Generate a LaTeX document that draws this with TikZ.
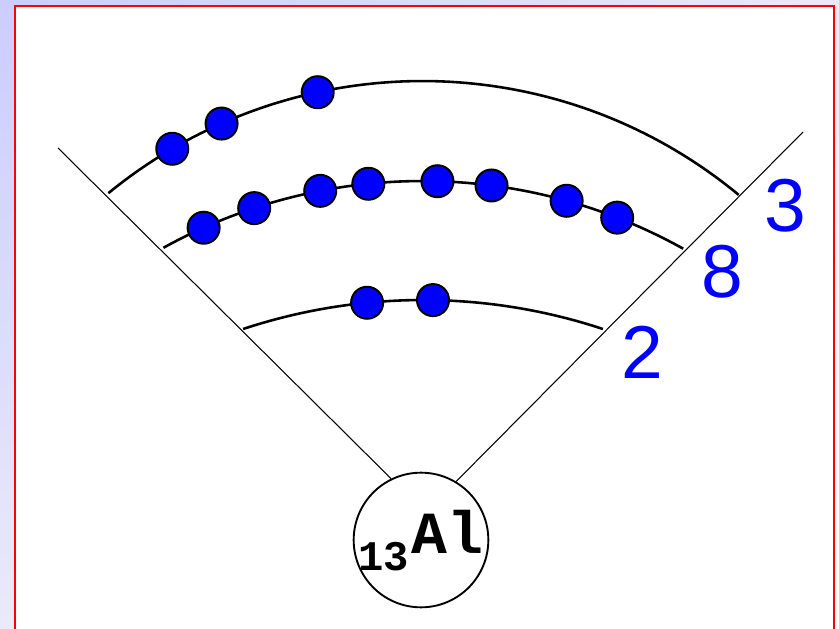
\documentclass[tikz,border=0pt]{standalone}
\usepackage{fontspec}
\setmainfont{Liberation Sans}
\newfontfamily\monofont{Liberation Mono}
\usetikzlibrary{calc,shadings}
\definecolor{elblue}{RGB}{0,0,255}
\definecolor{lavdark}{RGB}{204,204,255}
\definecolor{lavlight}{RGB}{234,234,250}
\definecolor{framered}{RGB}{255,0,0}
\tikzset{
  shell/.style={line width=2.2pt, black},
  sector/.style={line width=0.9pt, black},
  electron/.style={circle, draw=black, fill=elblue, line width=1.7pt,
                   minimum size=0.96cm, inner sep=0pt},
  nucleus/.style={circle, draw=black, line width=1.6pt, minimum size=4.04cm,
                  inner sep=0pt},
  count/.style={font=\fontsize{64}{64}\selectfont, text=elblue, inner sep=0pt},
  zlabel/.style={font=\monofont\bfseries\fontsize{36}{36}\selectfont,
                 inner sep=0pt, anchor=base west},
  symlabel/.style={font=\monofont\bfseries\fontsize{51}{51}\selectfont,
                   inner sep=0pt, anchor=base west},
}
\begin{document}
\begin{tikzpicture}[x=0.03cm,y=-0.03cm]
  \useasboundingbox (0,0) rectangle (839,629);
  % ---- background and frame ----
  \shade[upper left=lavdark, upper right=lavlight, lower left=lavlight,
         lower right=white] (0,0) rectangle (839,629);
  \draw[framered, line width=1.8pt, fill=white] (15,6) rectangle (834,640);
  % ---- nucleus and sector ----
  \node[nucleus] (nuc) at (421,540) {};
  \coordinate (ltop) at (58,148);
  \coordinate (rtop) at (803,132);
  \draw[sector] (ltop) -- (nuc.116);
  \draw[sector] (rtop) -- (nuc.59);
  \node[zlabel] (znum) at (358,570) {13};
  \node[symlabel] (sym) at (411,553) {Al};
  % ---- shells (centre, radius) ----
  \coordinate (c1) at (423,873);
  \coordinate (c2) at (422.5,717);
  \coordinate (c3) at (422.5,577);
  \draw[shell] ($(c1)+(-108.3:573)$) arc[start angle=-108.3, end angle=-71.7, radius=573];
  \draw[shell] ($(c2)+(-118.9:536)$) arc[start angle=-118.9, end angle=-60.9, radius=536];
  \draw[shell] ($(c3)+(-129.3:496)$) arc[start angle=-129.3, end angle=-50.4, radius=496];
  % ---- electrons ----
  \foreach \a [count=\i] in {-95.6,-89.0}
    \node[electron] (ea\i) at ($(c1)+(\a:573)$) {};
  \foreach \a [count=\i] in {-114.1,-108.3,-101.0,-95.8,-88.4,-82.6,-74.4,-68.7}
    \node[electron] (eb\i) at ($(c2)+(\a:536)$) {};
  \foreach \a [count=\i] in {-120.3,-113.9,-102.2}
    \node[electron] (ec\i) at ($(c3)+(\a:496)$) {};
  % ---- electron counts ----
  \node[count] (n1) at (642,352) {2};
  \node[count] (n2) at (722,272) {8};
  \node[count] (n3) at (785,206) {3};
\end{tikzpicture}
\end{document}
